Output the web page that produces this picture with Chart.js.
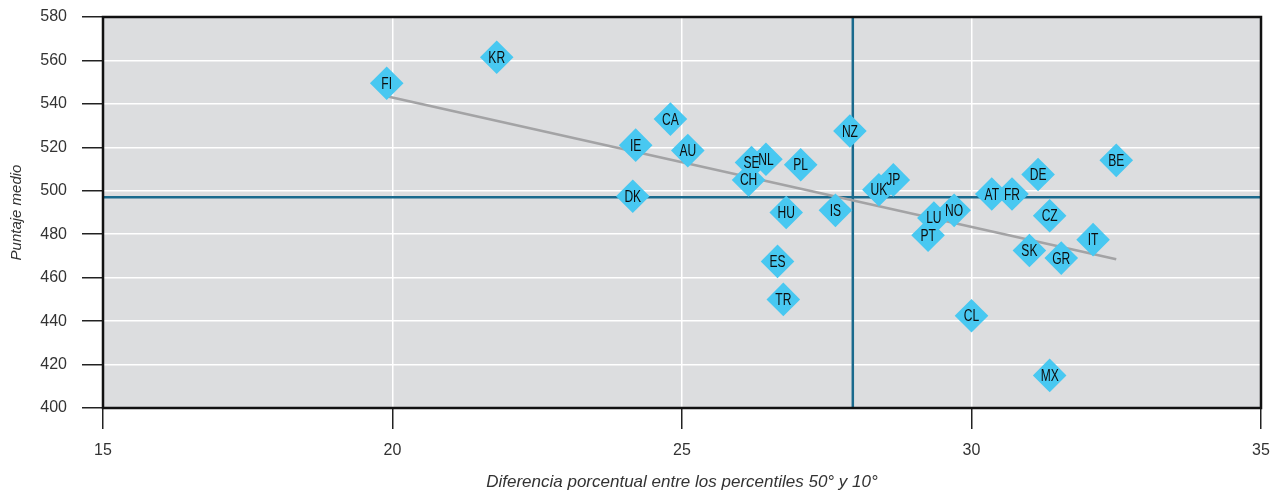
<!DOCTYPE html>
<html>
<head>
<meta charset="utf-8">
<script src="https://cdn.jsdelivr.net/npm/chart.js@4.4.1/dist/chart.umd.min.js"></script>
<style>
  html, body { margin: 0; padding: 0; background: #ffffff; }
  #wrap { width: 1282px; height: 492px; }
</style>
</head>
<body>
<div id="wrap"><canvas id="grafica"></canvas></div>
<script>
// Datos
const paises = ['FI', 'KR', 'CA', 'IE', 'AU', 'DK', 'SE', 'NL', 'CH', 'PL', 'NZ', 'UK', 'JP', 'HU', 'IS',
  'LU', 'NO', 'PT', 'AT', 'FR', 'DE', 'CZ', 'BE', 'SK', 'GR', 'IT', 'ES', 'TR', 'CL', 'MX'];
const diferencia = [19.9, 21.8, 24.8, 24.2, 25.1, 24.15, 26.2, 26.45, 26.15, 27.05, 27.9, 28.4, 28.65, 26.8, 27.65,
  29.35, 29.7, 29.25, 30.35, 30.7, 31.15, 31.35, 32.5, 31.0, 31.55, 32.1, 26.65, 26.75, 30.0, 31.35];
const puntaje = [549.5, 561.5, 533, 521, 518.5, 497.5, 513, 514.5, 505, 512, 527.5, 500.5, 505, 490, 491,
  487.5, 491, 479.5, 498.5, 498.5, 507.5, 488.5, 514, 472.5, 469, 477.5, 467.5, 450, 442.5, 415];

// Línea de tendencia (extremos leídos) y promedios
const tendenciaX = [19.9, 32.5];
const tendenciaY = [543.5, 468.5];
const promedioX = 27.95;
const promedioY = 497;

const ticksX = [15, 20, 25, 30, 35];
const ticksY = [400, 420, 440, 460, 480, 500, 520, 540, 560, 580];

const AZUL = '#1a6a8d';
const DIAMANTE = '#48c8f1';
const FUENTE = '"Liberation Sans", Arial, sans-serif';

const fondoArea = {
  id: 'fondoArea',
  beforeDraw(chart) {
    const { ctx, chartArea: a } = chart;
    ctx.save();
    ctx.fillStyle = '#dcdddf';
    ctx.fillRect(a.left, a.top, a.right - a.left, a.bottom - a.top);
    ctx.restore();
  },
  afterDraw(chart) {
    const { ctx, chartArea: a } = chart;
    ctx.save();
    ctx.strokeStyle = '#111111';
    ctx.lineWidth = 2.5;
    ctx.strokeRect(a.left, a.top, a.right - a.left, a.bottom - a.top);
    ctx.restore();
  }
};

// etiquetas de país sobre cada rombo (letra estrecha, escalada en horizontal)
const etiquetas = {
  id: 'etiquetas',
  afterDatasetsDraw(chart) {
    const { ctx, scales } = chart;
    ctx.save();
    ctx.font = '16.5px ' + FUENTE;
    ctx.fillStyle = '#0d0d0d';
    ctx.textAlign = 'center';
    ctx.textBaseline = 'middle';
    paises.forEach((p, i) => {
      const px = scales.x.getPixelForValue(diferencia[i]);
      const py = scales.y.getPixelForValue(puntaje[i]);
      ctx.save();
      ctx.translate(px, py + 1);
      ctx.scale(0.73, 1);
      ctx.fillText(p, 0, 0);
      ctx.restore();
    });
    ctx.restore();
  }
};

new Chart(document.getElementById('grafica'), {
  type: 'scatter',
  data: {
    datasets: [
      {
        data: paises.map((p, i) => ({ x: diferencia[i], y: puntaje[i] })),
        pointStyle: 'rectRot',
        pointRadius: 16.8,
        pointHoverRadius: 16.8,
        backgroundColor: DIAMANTE,
        borderWidth: 0,
        order: 0,
      },
      {
        type: 'line',
        data: tendenciaX.map((x, i) => ({ x, y: tendenciaY[i] })),
        borderColor: '#a3a3a5',
        borderWidth: 2.5,
        pointRadius: 0,
        order: 1,
      },
      {
        type: 'line',
        data: [{ x: 15, y: promedioY }, { x: 35, y: promedioY }],
        borderColor: AZUL,
        borderWidth: 2.5,
        pointRadius: 0,
        order: 2,
      },
      {
        type: 'line',
        data: [{ x: promedioX, y: 400 }, { x: promedioX, y: 580 }],
        borderColor: AZUL,
        borderWidth: 2.5,
        pointRadius: 0,
        order: 2,
      },
    ],
  },
  options: {
    responsive: true,
    maintainAspectRatio: false,
    animation: false,
    layout: { padding: { left: 0, right: 21, top: 17, bottom: 0 } },
    plugins: { legend: { display: false }, tooltip: { enabled: false } },
    scales: {
      x: {
        type: 'linear',
        min: 15,
        max: 35,
        afterFit(scale) {
          scale.height = 84;
          scale.paddingLeft = 0;
          scale.paddingRight = 0;
        },
        afterBuildTicks(scale) { scale.ticks = ticksX.map(v => ({ value: v })); },
        ticks: { color: '#333333', font: { family: FUENTE, size: 16 }, padding: 12 },
        grid: { color: '#ffffff', lineWidth: 1.5, tickColor: '#222222', tickWidth: 1.5, tickLength: 21 },
        border: { display: false },
        title: {
          display: true,
          text: 'Diferencia porcentual entre los percentiles 50° y 10°',
          color: '#333333',
          font: { family: FUENTE, size: 17, style: 'italic' },
          padding: { top: 0, bottom: 0 },
        },
      },
      y: {
        type: 'linear',
        min: 400,
        max: 580,
        afterFit(scale) {
          scale.width = 103;
          scale.paddingTop = 0;
          scale.paddingBottom = 0;
        },
        afterBuildTicks(scale) { scale.ticks = ticksY.map(v => ({ value: v })); },
        ticks: { color: '#333333', font: { family: FUENTE, size: 16 }, padding: 15 },
        grid: { color: '#ffffff', lineWidth: 1.5, tickColor: '#222222', tickWidth: 1.5, tickLength: 21 },
        border: { display: false },
        title: {
          display: true,
          text: 'Puntaje medio',
          color: '#333333',
          font: { family: FUENTE, size: 15, style: 'italic' },
          padding: { top: 8, bottom: 0 },
        },
      },
    },
  },
  plugins: [fondoArea, etiquetas],
});
</script>
</body>
</html>
